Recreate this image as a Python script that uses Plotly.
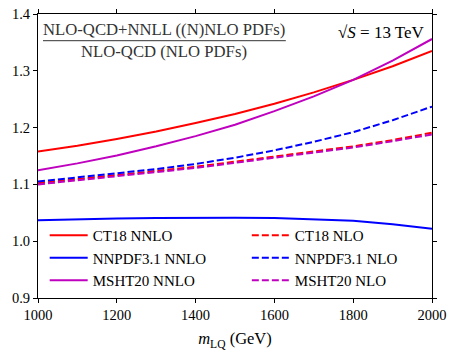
import plotly.graph_objects as go

m_lq = [1000, 1100, 1200, 1300, 1400, 1500, 1600, 1700, 1800, 1900, 2000]

ct18_nnlo = [1.158, 1.168, 1.180, 1.193, 1.208, 1.224, 1.242, 1.262, 1.284, 1.308, 1.335]
nnpdf_nnlo = [1.037, 1.039, 1.040, 1.041, 1.0415, 1.0415, 1.041, 1.039, 1.036, 1.030, 1.022]
msht_nnlo = [1.125, 1.137, 1.151, 1.167, 1.185, 1.205, 1.229, 1.255, 1.284, 1.318, 1.356]
ct18_nlo = [1.102, 1.109, 1.116, 1.123, 1.131, 1.140, 1.149, 1.158, 1.167, 1.178, 1.191]
nnpdf_nlo = [1.105, 1.112, 1.119, 1.127, 1.136, 1.147, 1.160, 1.175, 1.192, 1.213, 1.237]
msht_nlo = [1.100, 1.107, 1.114, 1.121, 1.129, 1.138, 1.147, 1.156, 1.165, 1.176, 1.188]

x_ticks = [1000, 1200, 1400, 1600, 1800, 2000]
y_ticks = [0.9, 1.0, 1.1, 1.2, 1.3, 1.4]

FONT = "Liberation Serif, DejaVu Serif, serif"
RED, BLUE, MAG = "#ff0000", "#0000ff", "#bf00bf"

series = [
    ("CT18 NNLO", ct18_nnlo, RED, "solid", "legend"),
    ("NNPDF3.1 NNLO", nnpdf_nnlo, BLUE, "solid", "legend"),
    ("MSHT20 NNLO", msht_nnlo, MAG, "solid", "legend"),
    ("CT18 NLO", ct18_nlo, RED, "7px,3px", "legend2"),
    ("NNPDF3.1 NLO", nnpdf_nlo, BLUE, "7px,3px", "legend2"),
    ("MSHT20 NLO", msht_nlo, MAG, "7px,3px", "legend2"),
]

fig = go.Figure()
for name, vals, col, dash, leg in series:
    fig.add_trace(go.Scatter(
        x=m_lq, y=vals, mode="lines", name=name, legend=leg,
        line=dict(color=col, width=2, dash=dash),
    ))

axis_common = dict(
    showline=True, linecolor="black", linewidth=1, mirror="ticks",
    ticks="outside", ticklen=4, tickcolor="black", tickwidth=1,
    showgrid=False, zeroline=False, automargin=False,
    tickfont=dict(family=FONT, size=14.5, color="black"),
)

fig.update_xaxes(
    range=[1000, 2000], tickvals=x_ticks, ticktext=[str(v) for v in x_ticks],
    title=dict(text="<i>m</i><sub>LQ</sub> (GeV)", font=dict(family=FONT, size=16.5, color="black"), standoff=10),
    **axis_common,
)
fig.update_yaxes(
    range=[0.9, 1.4], tickvals=y_ticks, ticktext=[f"{v:.1f}" for v in y_ticks],
    **axis_common,
)

legend_common = dict(
    yanchor="top", y=0.278, xanchor="left",
    bgcolor="rgba(0,0,0,0)", borderwidth=0,
    font=dict(family=FONT, size=15, color="black"),
    itemwidth=38, tracegroupgap=0,
)
fig.update_layout(
    width=458, height=352,
    margin=dict(l=38, r=26, t=14, b=54, autoexpand=False),
    paper_bgcolor="white", plot_bgcolor="white",
    legend=dict(x=0.017, **legend_common),
    legend2=dict(x=0.53, **legend_common),
    font=dict(family=FONT, color="black"),
)

fig.add_annotation(
    xref="x domain", yref="y domain", x=0.321, y=0.945,
    text="NLO-QCD+NNLL ((N)NLO PDFs)", showarrow=False,
    font=dict(family=FONT, size=16.7, color="#333333"),
    xanchor="center", yanchor="middle",
)
fig.add_annotation(
    xref="x domain", yref="y domain", x=0.321, y=0.867,
    text="NLO-QCD (NLO PDFs)", showarrow=False,
    font=dict(family=FONT, size=16.7, color="#333333"),
    xanchor="center", yanchor="middle",
)
fig.add_shape(
    type="line", xref="x domain", yref="y domain",
    x0=0.0127, x1=0.629, y0=0.906, y1=0.906,
    line=dict(color="#333333", width=1),
)
fig.add_annotation(
    xref="x domain", yref="y domain", x=0.9866, y=0.934,
    text="√<i>S</i> = 13 TeV", showarrow=False,
    font=dict(family=FONT, size=17, color="black"),
    xanchor="right", yanchor="middle",
)

fig.write_html(
    "out.html",
    config={"displayModeBar": False},
    post_script="document.body.style.margin='0';document.body.style.overflow='hidden';",
)
